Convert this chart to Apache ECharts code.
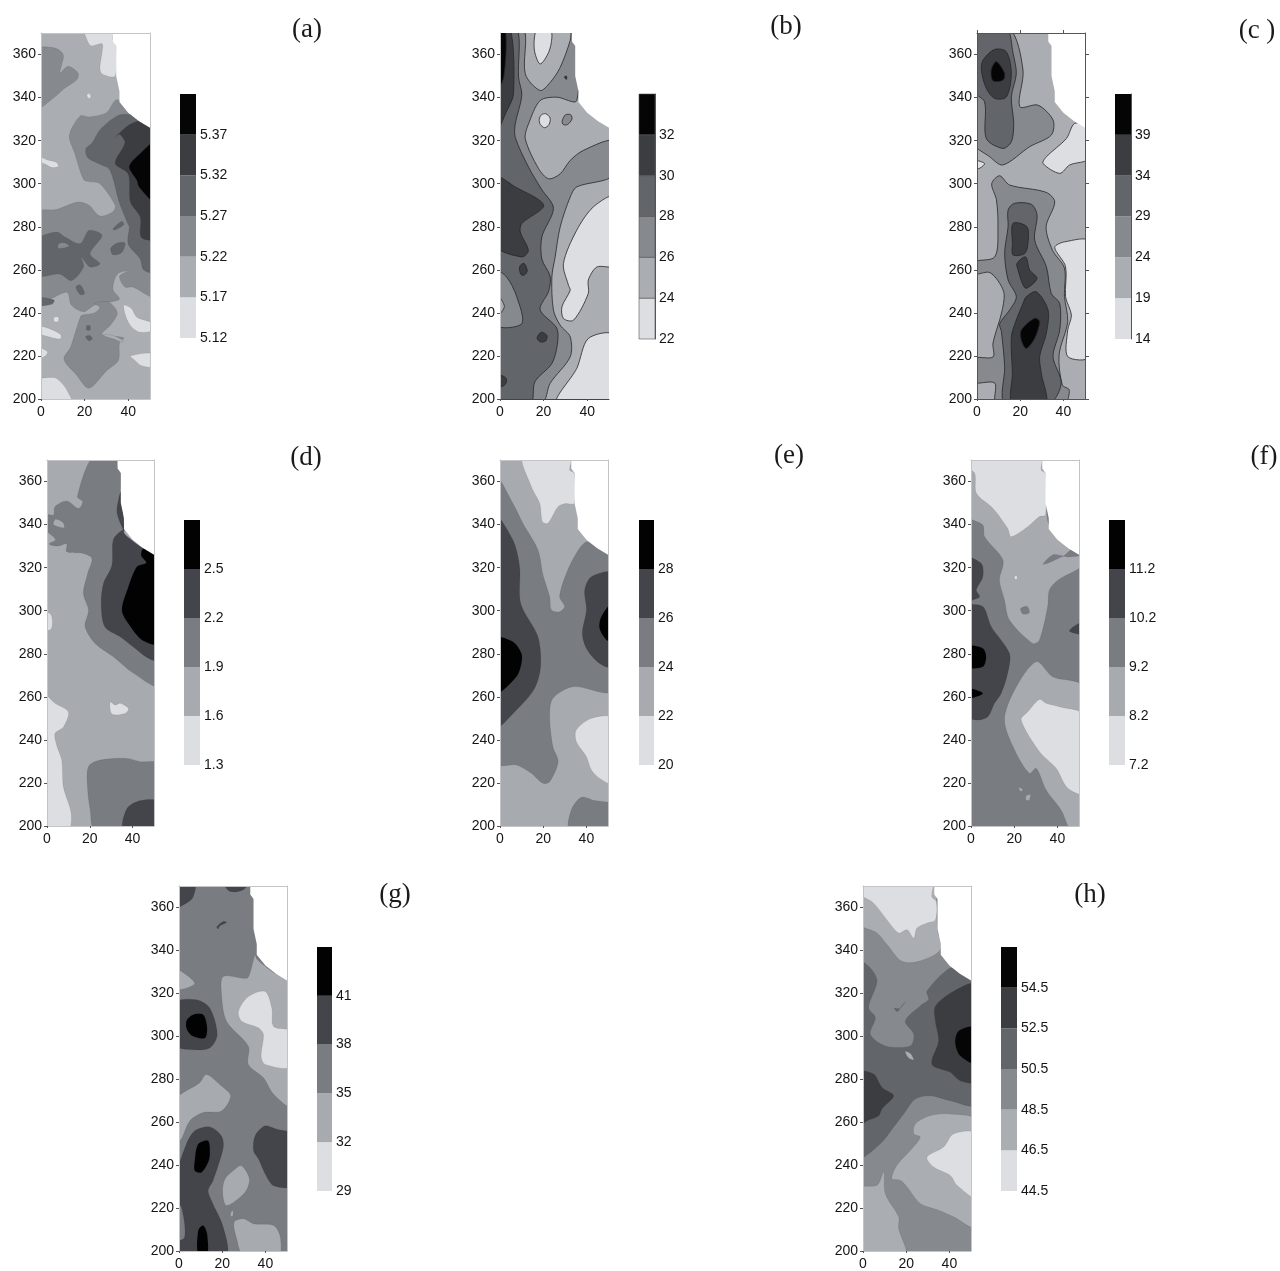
<!DOCTYPE html>
<html><head><meta charset="utf-8">
<script src="https://cdn.jsdelivr.net/npm/echarts@6/dist/echarts.min.js"></script>
<style>html,body{margin:0;padding:0;background:#fff}#c{width:1280px;height:1271px;filter:blur(0.6px)}</style>
</head><body><div id="c"></div>
<script>
const xTicks=[0,20,40];
const yTicks=[200,220,240,260,280,300,320,340,360];
const full=[[0,200],[50,200],[50,370],[0,370]];
const noData=[[33,372],[33,366],[34.5,364],[34.5,350],[36,343],[36,338],[40,333],[45,329],[50,326],[52,326],[52,372]];
const six=['#dcdee1','#aaaeb2','#86898d','#626569','#3b3d41','#050505'];
const five=['#dcdee1','#a7abaf','#797c80','#43454a','#020202'];

const ticksA=[5.12,5.17,5.22,5.27,5.32,5.37,5.42];
const ticksB=[22,24,26,28,30,32,34];
const ticksC=[14,19,24,29,34,39,44];
const ticksD=[1.3,1.6,1.9,2.2,2.5,2.8];
const ticksE=[20,22,24,26,28,30];
const ticksF=[7.2,8.2,9.2,10.2,11.2,12.2];
const ticksG=[29,32,35,38,41,44];
const ticksH=[44.5,46.5,48.5,50.5,52.5,54.5,56.5];

const panelA=[
[1,full],
[0,[[20,370],[21,367],[23,364],[28,365],[28,361],[27,354],[28,351],[34,350],[34.5,364],[33,367],[33,370]]],
[0,[[21,341],[22,342],[23,340.5],[22,339.5]]],
[0,[[0,313],[3,311],[7,310],[8,308],[5,307.5],[2,309],[0,311]]],
[0,[[38,243.5],[41.5,242],[44,238],[50,235],[50,232],[45.5,231],[41.5,233.5],[39,238]]],
[0,[[0,234],[3,233],[9,230],[9,228],[5,228.5],[0,231]]],
[0,[[0,224],[3,222],[2,220],[0,218.5]]],
[0,[[41,220],[50,221],[50,215],[46,215.5],[43,218]]],
[0,[[0,208.5],[6,210],[9,208],[12,204],[14,200],[0,200]]],
[0,[[6,238],[8,238],[8,236],[6,236]]],
[2,[[0,362.3],[6.4,363],[10.2,360],[9.5,355.3],[8.7,351.4],[12.5,354.5],[17,351.4],[16.4,348.3],[11,344.4],[5.7,339.8],[0,335]]],
[2,[[0,286.5],[7,288],[17,291.5],[22,290],[27,285],[33,287],[34,290],[27,300],[22,301],[19.5,302],[15.5,314],[13,322.5],[18,331.5],[22,331],[30,333],[35,339],[50,326],[50,248],[42,252],[38.5,252],[36,257],[40,259.5],[35,258],[33,251],[36,246.5],[31,245],[28,245],[23.5,243],[19.5,240.5],[14,243.5],[12,249.5],[5.5,247],[0,243.5]]],
[2,[[31,245],[35,240],[32,234.5],[28,230],[38,228.5],[36,226],[35.5,218],[30,213],[22,205],[16,211.5],[10.5,218.5],[13.5,224],[18,238],[19,239],[24.5,240],[27,242.5],[24.5,244.5]]],
[1,[[29,230],[33,229.5],[38,227],[37,226.5],[33,228],[29,229.3]]],
[3,[[21,234],[22.5,234],[22.5,232],[21,232]]],
[3,[[20.5,229],[22.5,229.5],[23.5,228],[22,227]]],
[3,[[23.5,319],[27,325],[35,331.5],[41.5,332],[47,329],[50,326],[50,259],[47,260],[45.5,265],[40,272],[40.5,280],[40,281],[36,291],[31.5,306.5],[27,309],[21.5,312],[20.5,316]]],
[3,[[0,273.7],[7,277.6],[11,275.3],[18,272.2],[22,278.3],[28,276],[22.5,267.5],[27,262.8],[22.5,261.3],[18.5,266],[19.5,261.3],[14,255],[8.7,258],[0,257.5]]],
[2,[[8,272],[11,272.5],[13,271],[8,270]]],
[3,[[32,270],[35,272.5],[38.5,272.5],[37,268],[33,267]]],
[3,[[33,279],[37,282.5],[38,281],[34,278.5]]],
[3,[[16,252],[18,253],[20,249],[18,248.5]]],
[3,[[0,247],[6,246],[5,244],[0,243.5]]],
[4,[[34,321.5],[40,327],[45,329],[50,326],[50,274.5],[46,275],[45.5,284.5],[41,291.5],[40,304.5],[34,309.5],[38.5,319],[36,323]]],
[5,[[50,319],[46,314.5],[40.5,308],[44,301.5],[45,298.5],[50,292]]]
];

const panelB=[
[1,full],
[0,[[17,370],[15.7,362.6],[18.4,355.6],[22.3,361],[23.8,367.8],[23,370]]],
[0,[[50,293.8],[42.8,289.2],[35.2,278.4],[29.1,262.9],[31.4,252.8],[32.2,250.5],[28.4,242.8],[29.1,237.4],[33.7,236.6],[40.5,249],[40.5,255.2],[44.4,261.3],[50,262.1]]],
[0,[[50,229.7],[40.5,228.1],[35.2,214.2],[26,200],[50,200]]],
[2,[[0,200],[0,370],[10.8,370],[11.6,351],[18.4,343.3],[23,347],[27.6,354],[32.2,366.5],[33,370],[35.2,370],[35.2,338.6],[26,340.2],[18.4,338.6],[13.1,327.8],[11.6,320.9],[17.7,307],[22.3,302.3],[27.6,304.6],[32.2,310.8],[38.3,315.5],[50,319.8],[50,303.9],[35.2,298.5],[32.2,293.8],[27.6,279.9],[25.3,266],[23.8,256.7],[24.5,241.3],[27.6,234.3],[32.2,228.9],[32.2,219.6],[23,207.3],[19.2,200]]],
[0,[[18,330],[19,332],[21,332.5],[23,330.5],[22.5,327.5],[20.5,326],[18.5,327.5]]],
[2,[[28.5,329],[30,332],[32.5,332],[33,330],[31,327.5],[29,327.5]]],
[3,[[7.8,370],[8.5,349.5],[10,341],[7,327.8],[7,321.5],[13.1,307.7],[19,297.5],[24.5,288.6],[19.2,275.3],[19.2,265],[23,257],[22.3,250],[18.4,241.5],[26,233],[26.4,226],[23.8,216.5],[16,208],[14,200],[0,200],[0,370]]],
[2,[[0,259.5],[3,256.7],[7.7,247.5],[10,235],[0,234.5]]],
[1,[[0,249],[2,243],[0,238]]],
[4,[[0,303],[7,298.5],[20,290],[10,281.5],[9.3,277.6],[13,269],[10,266],[0,271.4]]],
[4,[[0,370],[4.7,370],[6.2,341.7],[3.2,334],[0,324]]],
[5,[[0,370],[2.4,370],[1.7,349.5],[0,343]]],
[4,[[9,261.5],[11,263],[12.5,259.5],[11,257.5],[9.5,258]]],
[4,[[17,228.4],[19,231],[21.5,229.5],[21,227],[18.5,226.5]]],
[4,[[0,211.5],[2.5,210],[3,208],[1.5,206],[0,206]]],
[4,[[29.5,349.5],[30.5,350],[30.5,348.5]]]
];

const panelC=[
[1,full],
[2,[[0,370],[15.1,370],[21.3,352.8],[19.8,335.8],[28.2,336.5],[35.2,329.6],[34.4,322.6],[24.4,317.2],[12,308.7],[5.9,312.5],[0,319.5]]],
[3,[[0,370],[13.6,370],[16.7,360.5],[18.2,351],[15.9,340.3],[17,328],[15.9,319.5],[12,316.4],[4.3,321],[3.5,338],[0,343.5]]],
[4,[[2.8,357.4],[8.2,362.4],[13.6,361.3],[15.9,351.2],[13.6,340.3],[8.2,339.6],[4.3,344.3],[2,352.8]]],
[5,[[6.6,352.8],[9,356.7],[12.8,351.2],[12,348.1],[7.4,347.8]]],
[0,[[45.2,328],[41.4,321],[32.1,312.5],[30.6,309.4],[38.3,304.8],[42.9,308.7],[50,311.8],[50,326.5]]],
[0,[[0,311],[3.5,309.4],[0.5,307]]],
[0,[[50,273],[40.6,273],[36,270.4],[41,261.5],[41,247.5],[43.7,239],[42,232],[42,219.7],[50,219.7]]],
[2,[[6.8,300],[10.5,303.7],[15.1,299.4],[32,296],[36,291.5],[32,280],[35,269],[40.5,260.8],[40.5,247.5],[42,236],[38,220.5],[39.5,206.5],[42.7,204.2],[40.5,200],[9,200],[8.2,207.4],[0,207.9],[0,218.7],[7.4,219.5],[7.4,226],[11.6,241],[12.3,250],[6,258.7],[0,257.9],[0,263.5],[8.2,266],[9.7,280],[9,292.5]]],
[3,[[14.4,287.8],[17.4,290.9],[25.2,290.4],[27.8,285.4],[26.7,273.8],[32.1,261.5],[34.4,249],[38.3,244.4],[38.3,232],[35.2,219.7],[39,207.3],[33.6,200],[12.8,200],[12.8,215],[11.3,231.3],[10.5,235],[15.1,241.3],[18.2,247.5],[14.4,255.3],[12.8,267.6],[14.4,280]]],
[4,[[16.7,281.6],[23.1,280],[23.6,272.3],[22.1,267.6],[16.7,266.9],[16.4,272.3]]],
[4,[[18.5,263],[22.5,266],[24.4,259.9],[27.8,256],[22.8,251.4],[21,253.7],[19,259.9]]],
[4,[[22.8,247.5],[27.5,249.8],[32.9,241.3],[32.1,230.5],[29,219.7],[29.8,211.9],[31.8,200],[16.4,200],[16.4,211.9],[15.9,228.9],[18.2,236.7],[21.3,244.4]]],
[5,[[20.5,232],[26.7,237.5],[29,235.9],[26.7,228.2],[22.8,223.5],[20.5,227.4]]]
];

const panelD=[
[1,full],
[2,[[21.7,370],[14.2,353],[16.7,350.6],[14.7,347.5],[9.2,351],[3.75,348.3],[3,344.4],[0,345],[0,339],[4,333],[1,331],[5,330],[9.2,331],[9.2,327.4],[17,326.6],[21,324.3],[19,317.3],[17,308],[19.4,300.3],[17.8,292.6],[22.5,284.8],[31,278.6],[40.5,270.9],[50,265.5],[50,326],[45,328.5],[40,332],[36,336],[36,343],[34.5,350],[34.5,364],[33,367],[32.2,370]]],
[1,[[3,340],[8,338.5],[7.5,341],[4,342.5]]],
[3,[[32.7,345.5],[33.5,352],[34.5,355],[36,340],[36,337]]],
[3,[[35.8,337.8],[31,333],[30.3,321],[26.4,312.7],[25.3,303.4],[27,292.6],[34,288],[40.5,283],[46.7,278.3],[50,277],[50,326],[45,329],[40,332.5],[36,336]]],
[4,[[45.2,329],[50,326],[50,284.8],[44.4,286.4],[38,294],[35,300.3],[38,311],[42,320.4],[46.4,322.3],[44,325.7]]],
[0,[[0,261.6],[3.75,257],[10,253],[7.7,246],[3.75,243],[4.5,237.6],[6.9,230.6],[7.7,218],[11.3,206],[10,200],[0,200]]],
[0,[[0,299.5],[2,298],[2,291.5],[0,291]]],
[0,[[29.5,257.7],[31.9,256.2],[34.2,257],[38.1,254.6],[36.6,252.3],[30.3,252]]],
[2,[[19.4,227.6],[24.8,230.6],[37.3,231.4],[43.6,229.9],[50,228.8],[50,200],[22.5,200],[20.2,207.4],[18.9,218.3]]],
[3,[[35.8,200],[37.3,208],[43.6,211.8],[50,211.3],[50,200]]]
];

const panelE=[
[1,full],
[0,[[10.6,370],[32.7,370],[32.3,365.3],[34.3,363.8],[34.3,349.8],[30.4,349.8],[26.9,348.3],[22.2,340.6],[19.6,341.3],[18.4,349.8],[14.5,357.6]]],
[2,[[0,362.2],[6,349.8],[10.6,340.6],[17.6,328.2],[19.9,316.6],[23,306.5],[23.8,300.3],[27.6,299.5],[29.9,301.9],[27.6,306.5],[30.7,317.3],[35.3,326.6],[40,332],[44.6,329.7],[50,326],[50,263.2],[33.8,264.7],[24.5,259.3],[23,250.8],[24.5,236.8],[26.9,229.9],[23,220.6],[19.9,219.8],[14.5,224.5],[7.6,228.3],[0,229.1]]],
[3,[[0,343.7],[6,332.8],[9.1,320.4],[9.6,303.4],[17.6,287.9],[18.8,274],[16,263.9],[7.6,253.9],[0,246.1]]],
[4,[[0,287.2],[6,285.6],[9.9,280.2],[9.9,275.5],[7.6,269.3],[0,261.6]]],
[3,[[50,317.3],[42.3,315.8],[39.2,309.6],[40,300.3],[38.1,289.5],[40,282.5],[46.1,275.5],[50,274]]],
[4,[[50,303.4],[46.9,297.2],[46.1,291.8],[49.3,286.4],[50,286.4]]],
[0,[[50,250],[42.3,250],[35.3,244.6],[35.3,239.2],[40,232.2],[42.3,226],[46.1,222.1],[50,219.8]]],
[2,[[32.3,200],[33,207.4],[37.7,213.3],[43,212],[50,209.8],[50,200]]]
];

const panelF=[
[2,full],
[1,[[0,370],[34,370],[36,340],[50,326],[50,321.2],[40.2,314.2],[36.3,309.6],[35.5,301.9],[31.7,286.4],[28.6,284.8],[17.8,295.7],[15.5,305],[13.2,314.2],[14.8,323.5],[6.3,334.4],[5.5,339.8],[0,344.4]]],
[2,[[33.5,321.5],[38,326],[45,325],[50,326],[47,328.5],[43,325.5]]],
[2,[[23,301],[26,302],[27,299],[24,298.5]]],
[0,[[0,370],[32.5,370],[32.5,365.3],[34.5,363.8],[34.5,344.4],[31.7,343.7],[26.3,339],[18.6,334.4],[17,338.2],[10.2,347.5],[2.5,354.5],[1.7,363.8],[0,367]]],
[0,[[20,315.5],[21,316.5],[21.5,315],[20.5,314.5]]],
[3,[[0,324.3],[4.8,321.9],[5.5,315.8],[2.5,309.6],[4,306.5],[1,305],[0,303.4],[5.5,301.9],[9.4,292.6],[17.8,280.2],[17,270.9],[14,261.6],[10.9,257],[7.8,250.8],[2.5,249.2],[0,251.5]]],
[4,[[0,283.3],[5.5,282.5],[7,278.6],[5.5,274],[0,274]]],
[4,[[0,264],[5.5,261.6],[0,259.3]]],
[3,[[50,294.9],[45.5,290.7],[50,289.2]]],
[1,[[30.2,276.3],[37.8,269.3],[50,264.4],[50,200],[46.3,200],[41.7,207.4],[34.8,216.7],[30.2,226.8],[27,224.5],[20.2,235.3],[15.5,249.2],[20.2,263.2]]],
[0,[[31.7,258.8],[34.8,257],[40.9,255.4],[50,251.5],[50,215.2],[44.8,217.5],[39.4,226.8],[31.7,234.5],[23.2,249.2],[26.3,253.1]]],
[1,[[22,218],[24,217],[23,216]]],
[1,[[25.5,214],[27.5,214.5],[27,212],[25.5,212]]]
];

const panelG=[
[2,full],
[3,[[0,370],[7.3,370],[6.5,364.8],[2.6,361.5],[0,359.8]]],
[3,[[20.5,370],[32.1,370],[29.8,368.3],[23.6,367.4]]],
[1,[[0,331.4],[3.4,328.6],[7.3,324.7],[3.4,322.4],[0,322.1]]],
[1,[[35.2,337.9],[33,330],[31.4,327],[20.5,327.8],[19.7,319.3],[22,307],[32.1,295.4],[32.1,286.9],[39.1,280.7],[43.8,273],[50,267.5],[50,326],[45,329],[40,332.5],[36,336]]],
[0,[[27.5,311.6],[32.1,318.5],[39.9,320.9],[43,313.1],[43.8,304.6],[50,302.3],[50,285.8],[39.9,286.9],[38,290.7],[39.1,300.8],[36.8,303.9],[29,307]]],
[1,[[0,269.9],[9.6,278.4],[12.7,282.2],[19.7,276.8],[23.9,272.2],[19.7,265.2],[11.2,264.5],[5,260.6],[1,252],[0,249]]],
[1,[[26,238.2],[29,239.7],[32.6,233.5],[30.6,227.4],[22,221.2],[20.2,227.4],[21.3,233.5]]],
[1,[[24,218],[25,219],[25,216.5],[24,216]]],
[1,[[25.5,213.4],[29.8,215],[34.5,212.7],[43.8,211.9],[46.9,206.5],[46.1,200],[29.8,200],[26.7,205.7]]],
[3,[[0,315.5],[8.1,317],[14.3,313.1],[17.7,300.8],[14.3,294.6],[5,293.8],[0,296.1]]],
[4,[[3.4,307],[6.5,310],[11.2,310],[13,303.9],[12,299.2],[6.5,300],[3.7,303.1]]],
[3,[[3.4,249.8],[7.3,256],[14.3,257.8],[19.7,253.6],[20.5,248.2],[15.8,232.8],[13.5,228.1],[15,223.5],[20.5,211.1],[21.7,200],[0,200],[0,203.4],[2.6,206.5],[1.1,220.4],[0,223.5],[0,232.8]]],
[4,[[8.9,249.8],[13.5,251.3],[14.3,245.1],[13.5,241.3],[10.4,236.6],[7.3,237.4],[7.3,242]]],
[4,[[8.9,209.6],[11.2,211.9],[13,208],[13,200],[8.9,200]]],
[3,[[35.2,253.6],[39.9,258.3],[45.3,256.7],[50,254.4],[50,230.4],[43.8,230.4],[39.9,235.9],[36.8,242.8],[34.5,246.7]]],
[3,[[17.5,351],[20.5,353.5],[22,353],[19,351.5],[18,350]]]
];

const panelH=[
[2,full],
[1,[[0,370],[33,370],[34,362],[34.5,350],[35.8,340.3],[25.8,334.9],[18,334.9],[11.1,342.7],[6.5,348.1],[0,352.7]]],
[0,[[0,370],[31.9,370],[31.9,365],[34,362.7],[33.5,354.2],[29.6,352.7],[25,350.4],[23.5,345.7],[20.4,349.6],[16.5,348.1],[11.1,354.2],[4.9,362],[0,366.6]]],
[3,[[0,334.9],[3.4,331.8],[6.5,325.7],[2.6,313.3],[5.7,308.7],[3.4,300.9],[10.3,295.5],[21.9,295.5],[23.5,300.9],[19.6,307.1],[26.5,314.1],[30.4,317.2],[29.6,321],[40.4,331.8],[45,329],[50,326],[50,268.5],[40.4,270],[31.2,272.3],[24.2,270.8],[18.8,263.8],[14.2,257.7],[8,249.9],[0,243.7]]],
[1,[[19.5,293],[22,292],[23.5,289],[21,290]]],
[3,[[14.5,313],[17,313],[19.5,316],[17.5,313.5],[16,311.5]]],
[4,[[50,324],[42,321],[33.5,314],[33.5,307],[35,297.8],[31.9,287],[40.4,283.2],[45,279.3],[50,279]]],
[5,[[50,304],[44.3,302.5],[42.7,297],[45,290.9],[50,287.5]]],
[4,[[0,283.2],[4.9,282.4],[8.8,276.2],[14.2,272.3],[8.8,266.2],[7.3,263],[1.9,260.7],[0,258.4]]],
[1,[[50,260.7],[40.4,263.8],[31.2,263.1],[24.2,259.2],[23.5,254.6],[26.5,253],[21.9,246.8],[15.7,239.9],[13.4,233.7],[17.3,232.9],[20.4,229.8],[26.5,222.1],[35,219],[42,215.9],[50,211.3]]],
[0,[[50,254.6],[42,254.6],[37.3,248.4],[29.6,243.7],[32.7,239.1],[40.4,235.2],[43.5,230.6],[50,225.2]]],
[1,[[0,229.1],[6.5,230.6],[9.6,236.8],[10.3,226.7],[16.5,215.9],[16.5,210.5],[19.6,200],[0,200]]]
];

const plain={stroke:'rgba(50,50,55,.22)',lw:.5,frame:'#c4c4c6',bar:'#9a9a9a'};
const lined={stroke:'#26262a',lw:.8,frame:'#c4c4c6',bar:'#555'};
const panels=[
{tag:'(a)',polys:panelA,ticks:ticksA,dec:2,pal:six,box:[41,33,109,366],barBox:[180,94,16,244],at:[307,30],st:plain},
{tag:'(b)',polys:panelB,ticks:ticksB,dec:0,pal:six,box:[500,33,109,366],barBox:[639,94,16,245],at:[786,27],st:lined},
{tag:'(c )',polys:panelC,ticks:ticksC,dec:0,pal:six,box:[977,33,108,366],barBox:[1115,94,16,245],at:[1257,31],st:{...lined,frame:'#555',extra:true}},
{tag:'(d)',polys:panelD,ticks:ticksD,dec:1,pal:five,box:[47,460,107,366],barBox:[184,520,16,245],at:[306,458],st:plain},
{tag:'(e)',polys:panelE,ticks:ticksE,dec:0,pal:five,box:[500,460,108,366],barBox:[639,520,15,245],at:[789,456],st:plain},
{tag:'(f)',polys:panelF,ticks:ticksF,dec:1,pal:five,box:[971,460,108,366],barBox:[1109,520,16,245],at:[1264,457],st:plain},
{tag:'(g)',polys:panelG,ticks:ticksG,dec:0,pal:five,box:[179,886,108,366],barBox:[317,947,15,244],at:[395,895],st:plain},
{tag:'(h)',polys:panelH,ticks:ticksH,dec:1,pal:six,box:[863,886,108,366],barBox:[1001,947,16,244],at:[1090,895],st:plain}
];

const FONT='"Liberation Sans",Arial,sans-serif';
const grid=[],xAxis=[],yAxis=[],series=[],graphic=[];
// vertices lying on the frame are pushed just past it, so rounding stays outside the clipped plot
const past=q=>[q[0]<=0?-2:q[0]>=50?52:q[0],q[1]<=200?198:q[1]>=370?372:q[1]];
function polySeries(items,getFill,stroke,lw,smooth){
  series.push({type:'custom',xAxisIndex:xAxis.length-2,yAxisIndex:yAxis.length-2,clip:true,silent:true,animation:false,
    coordinateSystem:'cartesian2d',z:3,
    data:items.map((p,i)=>[i]),
    encode:{x:[],y:[]},
    renderItem:(params,api)=>{
      const it=items[params.dataIndex], flat=(it[1]===full||it[1]===noData);
      return {type:'polygon',shape:{points:it[1].map(q=>api.coord(flat?q:past(q))),smooth:flat?0:smooth},
        style:{fill:getFill(it[0]),stroke:flat?null:stroke,lineWidth:lw}};
    }});
}
panels.forEach(p=>{
  const [l,t,w,h]=p.box, ci=p.st.frame;
  grid.push({left:l,top:t,width:w,height:h});
  const gIdx=grid.length-1;
  const lab={fontFamily:FONT,fontSize:14,color:'#151515'};
  xAxis.push({type:'value',gridIndex:gIdx,min:0,max:50,interval:20,position:'bottom',z:5,splitLine:{show:false},
    axisLine:{onZero:false,lineStyle:{color:p.st===lined?'#444':ci,width:1}},axisTick:{show:true,length:2,customValues:xTicks,lineStyle:{color:'#555'}},
    axisLabel:{...lab,margin:6,customValues:xTicks}});
  yAxis.push({type:'value',gridIndex:gIdx,min:200,max:370,interval:20,position:'left',z:5,splitLine:{show:false},
    axisLine:{onZero:false,lineStyle:{color:ci,width:1}},axisTick:{show:true,length:3,customValues:yTicks,lineStyle:{color:'#555'}},
    axisLabel:{...lab,margin:5,customValues:yTicks}});
  const ex=p.st.extra;
  const framed=p.st!==lined;
  xAxis.push({type:'value',gridIndex:gIdx,min:0,max:50,interval:20,position:'top',z:5,splitLine:{show:false},
    axisLine:{show:framed,onZero:false,lineStyle:{color:ci}},axisTick:{show:!!ex,length:3,customValues:xTicks,lineStyle:{color:'#555'}},axisLabel:{show:false}});
  yAxis.push({type:'value',gridIndex:gIdx,min:200,max:370,interval:20,position:'right',z:5,splitLine:{show:false},
    axisLine:{show:framed,onZero:false,lineStyle:{color:ci}},axisTick:{show:!!ex,length:4,customValues:yTicks,lineStyle:{color:'#555'}},axisLabel:{show:false}});
  polySeries(p.polys,lv=>p.pal[lv],p.st.stroke,p.st.lw,0.3);
  polySeries([[0,noData]],()=>'#fff',null,0,0);

  const [bl,bt,bw,bh]=p.barBox, tk=p.ticks;
  grid.push({left:bl,top:bt,width:bw,height:bh});
  const bIdx=grid.length-1;
  xAxis.push({type:'value',gridIndex:bIdx,min:0,max:1,show:false});
  const labelled=tk.slice(0,-1);
  yAxis.push({type:'value',gridIndex:bIdx,min:tk[0],max:tk[tk.length-1],position:'right',z:5,splitLine:{show:false},
    axisLine:{show:p.st===lined||!!ex,onZero:false,lineStyle:{color:p.st.bar}},axisTick:{show:false,customValues:labelled},
    axisLabel:{...lab,margin:4,customValues:labelled,formatter:v=>Number(v).toFixed(p.dec)}});
  const bands=labelled.map((v,i)=>[i,[[0,v],[1,v],[1,tk[i+1]],[0,tk[i+1]]]]);
  series.push({type:'custom',xAxisIndex:xAxis.length-1,yAxisIndex:yAxis.length-1,silent:true,animation:false,z:3,
    data:bands.map((b,i)=>[i]),encode:{x:[],y:[]},
    renderItem:(params,api)=>{const b=bands[params.dataIndex];
      return {type:'polygon',shape:{points:b[1].map(q=>api.coord(q))},style:{fill:p.pal[b[0]],stroke:p.st===lined?'#555':null,lineWidth:p.st===lined?.6:0}};}});
  graphic.push({type:'text',x:p.at[0],y:p.at[1],z:10,silent:true,style:{text:p.tag,align:'center',verticalAlign:'middle',
    font:'27px "Liberation Serif","Times New Roman",serif',fill:'#1a1a1a'}});
});
const chart=echarts.init(document.getElementById('c'),null,{renderer:'canvas'});
chart.setOption({animation:false,backgroundColor:'#fff',grid,xAxis,yAxis,series,graphic});
</script></body></html>
